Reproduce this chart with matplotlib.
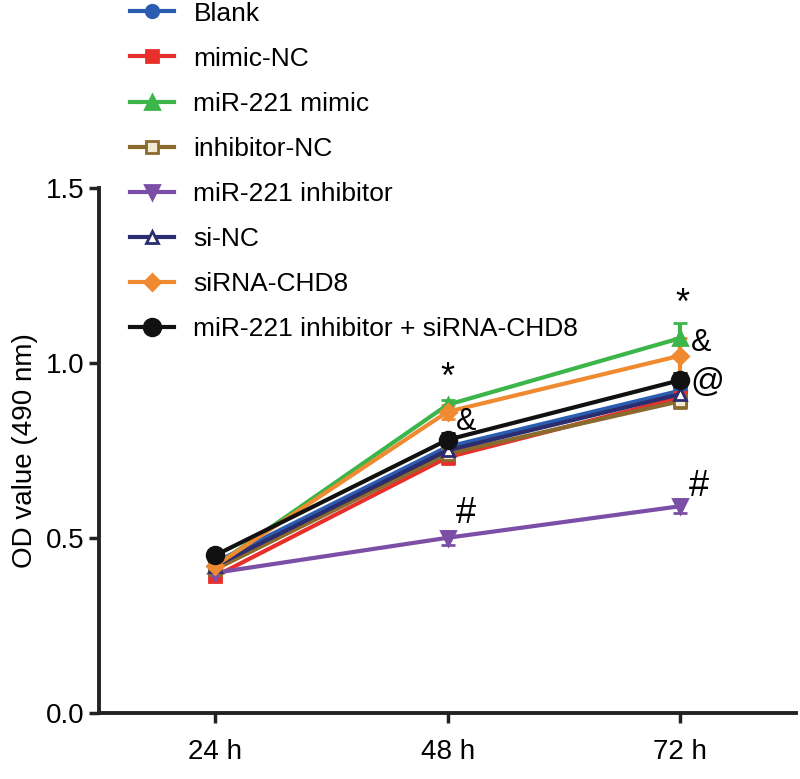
import numpy as np
import matplotlib
matplotlib.use("Agg")
import matplotlib.pyplot as plt
from matplotlib.lines import Line2D

plt.rcParams['font.family'] = ['Liberation Sans', 'DejaVu Sans']

time_labels = ['24 h', '48 h', '72 h']
groups = ['Blank', 'mimic-NC', 'miR-221 mimic', 'inhibitor-NC', 'miR-221 inhibitor',
          'si-NC', 'siRNA-CHD8', 'miR-221 inhibitor + siRNA-CHD8']

blank = [0.43, 0.76, 0.92]
mimic_nc = [0.39, 0.73, 0.90]
mimic = [0.42, 0.88, 1.07]
inhibitor_nc = [0.41, 0.74, 0.89]
inhibitor = [0.40, 0.50, 0.59]
si_nc = [0.42, 0.75, 0.91]
sirna_chd8 = [0.42, 0.86, 1.02]
combo = [0.45, 0.78, 0.95]

blank_err = [0.01, 0.02, 0.03]
mimic_nc_err = [0.01, 0.02, 0.02]
mimic_err = [0.01, 0.015, 0.045]
inhibitor_nc_err = [0.01, 0.02, 0.02]
inhibitor_err = [0.01, 0.02, 0.02]
si_nc_err = [0.01, 0.02, 0.02]
sirna_chd8_err = [0.01, 0.02, 0.05]
combo_err = [0.01, 0.02, 0.02]

series = [blank, mimic_nc, mimic, inhibitor_nc, inhibitor, si_nc, sirna_chd8, combo]
errors = [blank_err, mimic_nc_err, mimic_err, inhibitor_nc_err, inhibitor_err,
          si_nc_err, sirna_chd8_err, combo_err]

# (color, marker, face color, marker size)
styles = [
    ('#2a5db0', 'o', None, 9),
    ('#e8302a', 's', None, 9),
    ('#3cb54a', '^', None, 10),
    ('#8b6a2e', 's', '#f3ead6', 9),
    ('#7b4fa6', 'v', None, 10),
    ('#2b2d6e', '^', 'white', 9),
    ('#f08a30', 'D', None, 8),
    ('#111111', 'o', None, 12),
]

fig = plt.figure(figsize=(8.0, 7.79), dpi=100)
ax = fig.add_axes([0.124, 0.085, 0.871, 0.674])

x = np.arange(len(time_labels))
handles = []
for name, vals, err, (col, mk, mfc, ms) in zip(groups, series, errors, styles):
    ax.errorbar(x, vals, yerr=err, color=col, marker=mk, markersize=ms,
                mfc=mfc if mfc else col, mec=col, mew=2, lw=3,
                elinewidth=3, capsize=5, capthick=3)
    handles.append(Line2D([], [], color=col, marker=mk, markersize=ms,
                          mfc=mfc if mfc else col, mec=col, mew=2, lw=3))

# significance marks
ax.text(1.0, 0.955, '*', fontsize=26, ha='center', va='center')
ax.text(1.08, 0.83, '&', fontsize=22, ha='center', va='center')
ax.text(1.08, 0.57, '#', fontsize=26, ha='center', va='center')
ax.text(2.01, 1.166, '*', fontsize=26, ha='center', va='center')
ax.text(2.09, 1.057, '&', fontsize=22, ha='center', va='center')
ax.text(2.12, 0.943, '@', fontsize=24, ha='center', va='center')
ax.text(2.08, 0.646, '#', fontsize=26, ha='center', va='center')

ax.set_xlim(-0.5, 2.5)
ax.set_ylim(0, 1.5)
ax.set_yticks([0.0, 0.5, 1.0, 1.5])
ax.set_xticks(x)
ax.set_xticklabels(time_labels)
ax.set_ylabel('OD value (490 nm)', fontsize=20, labelpad=6)
ax.tick_params(axis='both', labelsize=20, width=2.5, length=7, color='#222222')
ax.tick_params(axis='x', pad=12)
for side in ['top', 'right']:
    ax.spines[side].set_visible(False)
for side in ['left', 'bottom']:
    ax.spines[side].set_linewidth(2.8)
    ax.spines[side].set_color('#222222')

fig.legend(handles=handles, labels=groups, loc='upper left',
           bbox_to_anchor=(0.162, 0.998), frameon=False, fontsize=19,
           borderpad=0, borderaxespad=0,
           handlelength=1.7, handletextpad=0.72, labelspacing=0.8)

fig.savefig('out.png', dpi=100)
